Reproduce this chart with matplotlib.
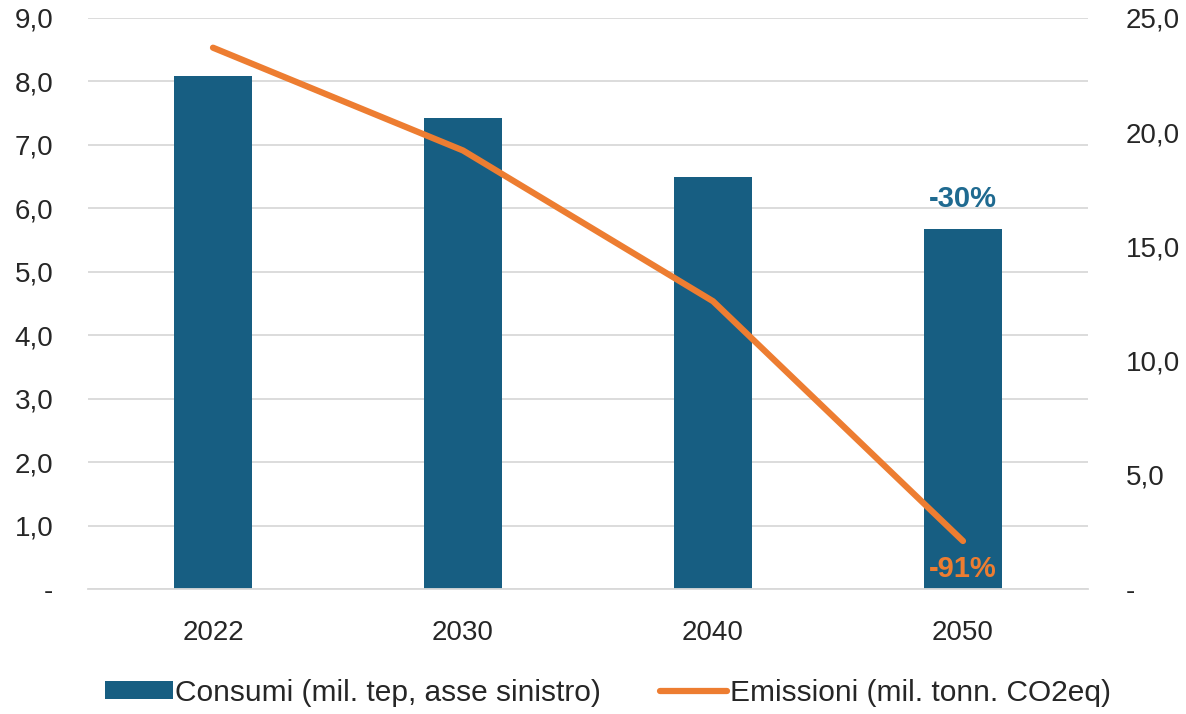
import matplotlib.pyplot as plt
from matplotlib.ticker import FuncFormatter

plt.rcParams['font.family'] = ['Liberation Sans', 'DejaVu Sans']

years = ["2022", "2030", "2040", "2050"]
consumi = [8.08, 7.42, 6.50, 5.68]       # mil. tep (left axis)
emissioni = [23.7, 19.2, 12.6, 2.1]      # mil. tonn. CO2eq (right axis)

bar_color = "#175E82"
line_color = "#ED7D31"
text_color = "#262626"


def fmt(v, pos):
    if abs(v) < 1e-9:
        return "-"
    return f"{v:.1f}".replace(".", ",")


fig = plt.figure(figsize=(11.86, 7.14), dpi=100)
ax = fig.add_axes([88 / 1186, 1 - 589 / 714, 1000 / 1186, 571 / 714])
ax2 = ax.twinx()

x = list(range(len(years)))
ax.bar(x, consumi, width=0.31, color=bar_color, zorder=2,
       label="Consumi (mil. tep, asse sinistro)")
ax2.plot(x, emissioni, color=line_color, linewidth=4.5, solid_capstyle="round",
         zorder=3, label="Emissioni (mil. tonn. CO2eq)")

ax.set_xlim(-0.5, 3.5)
ax.set_ylim(0, 9)
ax2.set_ylim(0, 25)
ax.set_yticks([i for i in range(10)])
ax2.set_yticks([0, 5, 10, 15, 20, 25])
ax.yaxis.set_major_formatter(FuncFormatter(fmt))
ax2.yaxis.set_major_formatter(FuncFormatter(fmt))
ax.set_xticks(x)
ax.set_xticklabels(years)

ax.grid(axis="y", color="#d9d9d9", linewidth=1.3, zorder=0)
ax.set_axisbelow(True)
for a in (ax, ax2):
    for s in a.spines.values():
        s.set_visible(False)
    a.tick_params(length=0, labelsize=20, colors=text_color)
ax.spines["bottom"].set_visible(True)
ax.spines["bottom"].set_color("#d9d9d9")
ax.spines["bottom"].set_linewidth(1.3)
ax.tick_params(axis="y", pad=25)
ax2.tick_params(axis="y", pad=27)
ax.tick_params(axis="x", pad=22)

ax.text(3, consumi[3] + 0.25, "-30%", color="#1F6A90", fontsize=21,
        fontweight="bold", ha="center", va="bottom")
ax2.text(3, emissioni[3] - 0.6, "-91%", color=line_color, fontsize=21,
         fontweight="bold", ha="center", va="top")

h1, l1 = ax.get_legend_handles_labels()
h2, l2 = ax2.get_legend_handles_labels()
fig.legend(h1 + h2, l1 + l2, loc="center",
           bbox_to_anchor=(0.5 + 15 / 1186, 1 - 693 / 714),
           ncol=2, frameon=False, fontsize=21.5, handlelength=2.25,
           handleheight=0.55, handletextpad=0.07, columnspacing=2.0,
           labelcolor=text_color)

fig.savefig("out.png", dpi=100)
